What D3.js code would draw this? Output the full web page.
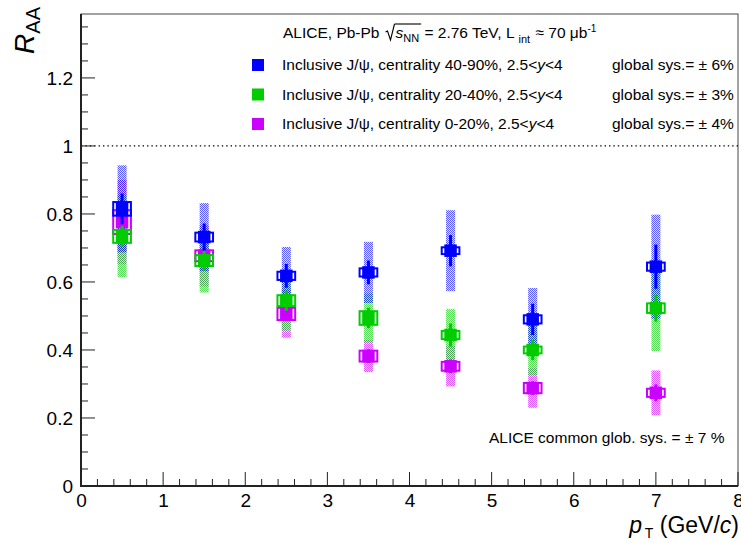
<!DOCTYPE html>
<html>
<head>
<meta charset="utf-8">
<script src="https://cdn.jsdelivr.net/npm/d3@7"></script>
<style>
  html, body { margin: 0; padding: 0; background: #fff; }
  svg { display: block; font-family: "Liberation Sans", Arial, Helvetica, sans-serif; }
  svg text { white-space: pre; }
</style>
</head>
<body>
<svg id="chart" width="741" height="543"></svg>
<script>
// ---------------- data ----------------
const ptBins = [0.5, 1.5, 2.5, 3.5, 4.5, 5.5, 7];

const seriesNames = ["Inclusive J/\u03c8, centrality 40-90%, 2.5<y<4",
                     "Inclusive J/\u03c8, centrality 20-40%, 2.5<y<4",
                     "Inclusive J/\u03c8, centrality 0-20%, 2.5<y<4"];
const globalSys = ["global sys.= \u00b1 6%", "global sys.= \u00b1 3%", "global sys.= \u00b1 4%"];

// 40-90%
const raa4090      = [0.815, 0.732, 0.618, 0.628, 0.692, 0.490, 0.645];
const stat4090     = [0.045, 0.040, 0.035, 0.035, 0.046, 0.046, 0.065];
const sysUnc4090   = [0.020, 0.013, 0.012, 0.012, 0.010, 0.012, 0.012];
const sysCor4090   = [0.128, 0.100, 0.085, 0.090, 0.119, 0.092, 0.153];
// 20-40%
const raa2040      = [0.734, 0.663, 0.545, 0.494, 0.444, 0.400, 0.523];
const stat2040     = [0.030, 0.030, 0.030, 0.030, 0.034, 0.030, 0.040];
const sysUnc2040   = [0.019, 0.016, 0.016, 0.020, 0.012, 0.010, 0.014];
const sysCor2040   = [0.120, 0.094, 0.088, 0.072, 0.077, 0.074, 0.126];
// 0-20%
const raa020       = [0.776, 0.677, 0.506, 0.382, 0.352, 0.288, 0.274];
const stat020      = [0.030, 0.025, 0.020, 0.020, 0.020, 0.020, 0.025];
const sysUnc020    = [0.035, 0.016, 0.018, 0.016, 0.013, 0.015, 0.012];
const sysCor020    = [0.124, 0.090, 0.070, 0.047, 0.059, 0.058, 0.066];

const seriesColors = ["#0000ff", "#00cc00", "#cc00ff"];

const xTicks = [0, 1, 2, 3, 4, 5, 6, 7, 8];
const yTicks = [0, 0.2, 0.4, 0.6, 0.8, 1, 1.2];

// ---------------- setup ----------------
const svg = d3.select("#chart");
const x = d3.scaleLinear().domain([0, 8]).range([81, 738]);
const y = d3.scaleLinear().domain([0, 1.388]).range([486, 14]);

const series = [
  {raa: raa4090, stat: stat4090, unc: sysUnc4090, cor: sysCor4090, color: seriesColors[0], id: "b"},
  {raa: raa2040, stat: stat2040, unc: sysUnc2040, cor: sysCor2040, color: seriesColors[1], id: "g"},
  {raa: raa020,  stat: stat020,  unc: sysUnc020,  cor: sysCor020,  color: seriesColors[2], id: "m"}
];

// checkered patterns
const defs = svg.append("defs");
series.forEach(s => {
  const p = defs.append("pattern").attr("id", "chk-" + s.id)
    .attr("patternUnits", "userSpaceOnUse").attr("width", 2).attr("height", 2);
  p.append("rect").attr("width", 2).attr("height", 2).attr("fill", s.color).attr("fill-opacity", 0.12);
  p.append("rect").attr("x", 0).attr("y", 0).attr("width", 1).attr("height", 1).attr("fill", s.color).attr("fill-opacity", 0.6);
  p.append("rect").attr("x", 1).attr("y", 1).attr("width", 1).attr("height", 1).attr("fill", s.color).attr("fill-opacity", 0.6);
});

// frame
svg.append("rect").attr("x", x(0)).attr("y", y(1.388)).attr("width", x(8) - x(0)).attr("height", y(0) - y(1.388))
  .attr("fill", "none").attr("stroke", "#444").attr("stroke-width", 1);

// dotted line at 1
svg.append("line").attr("x1", x(0)).attr("x2", x(8)).attr("y1", y(1)).attr("y2", y(1))
  .attr("stroke", "#000").attr("stroke-width", 1.2).attr("stroke-dasharray", "1.4 3");

// axes (ticks inward)
const yAxis = d3.axisLeft(y).tickValues(yTicks).tickFormat(d => d3.format("")(+d.toFixed(1))).tickSize(0).tickPadding(8);
const yg = svg.append("g").attr("transform", `translate(${x(0)},0)`).call(yAxis);
yg.select(".domain").remove();
yg.selectAll("text").style("font-size", "19px").attr("fill", "#000");

const xAxis = d3.axisBottom(x).tickValues(xTicks).tickSize(0).tickPadding(6);
const xg = svg.append("g").attr("transform", `translate(0,${y(0)})`).call(xAxis);
xg.select(".domain").remove();
xg.selectAll("text").style("font-size", "19px").attr("fill", "#000").attr("dy", "0.8em");

// tick marks
const yMinor = d3.range(0, 1.3801, 0.05);
svg.append("g").selectAll("line").data(yMinor).join("line")
  .attr("x1", x(0)).attr("x2", (d, i) => x(0) + (i % 4 === 0 ? 14 : 7))
  .attr("y1", d => y(d)).attr("y2", d => y(d)).attr("stroke", "#222").attr("stroke-width", 1);
const xMinor = d3.range(0, 8.001, 0.2);
svg.append("g").selectAll("line").data(xMinor).join("line")
  .attr("x1", d => x(d)).attr("x2", d => x(d))
  .attr("y1", y(0)).attr("y2", (d, i) => y(0) - (i % 5 === 0 ? 14 : 7)).attr("stroke", "#222").attr("stroke-width", 1);

// axis lines
svg.append("line").attr("x1", x(0)).attr("x2", x(0)).attr("y1", y(0)).attr("y2", y(1.388)).attr("stroke", "#222").attr("stroke-width", 2);
svg.append("line").attr("x1", x(0) - 1).attr("x2", x(8)).attr("y1", y(0)).attr("y2", y(0)).attr("stroke", "#222").attr("stroke-width", 2);

// ---------------- data marks ----------------
const bandHalf = 0.055, boxHalf = 0.12, mk = 12.5;
const drawOrder = [2, 1, 0];

drawOrder.forEach(k => {
  const s = series[k];
  svg.append("g").selectAll("rect").data(ptBins).join("rect")
    .attr("x", d => x(d - bandHalf)).attr("width", d => x(d + bandHalf) - x(d - bandHalf))
    .attr("y", (d, i) => y(s.raa[i] + s.cor[i]))
    .attr("height", (d, i) => y(s.raa[i] - s.cor[i]) - y(s.raa[i] + s.cor[i]))
    .attr("fill", `url(#chk-${s.id})`);
});

drawOrder.forEach(k => {
  const s = series[k];
  const g = svg.append("g");
  // open boxes: uncorrelated syst.
  g.selectAll("rect.box").data(ptBins).join("rect").attr("class", "box")
    .attr("x", d => x(d - boxHalf) + 1).attr("width", d => x(d + boxHalf) - x(d - boxHalf) - 2)
    .attr("y", (d, i) => y(s.raa[i] + s.unc[i]))
    .attr("height", (d, i) => Math.max(6, y(s.raa[i] - s.unc[i]) - y(s.raa[i] + s.unc[i])))
    .attr("transform", (d, i) => {
      const h = y(s.raa[i] - s.unc[i]) - y(s.raa[i] + s.unc[i]);
      return h < 6 ? `translate(0,${-(6 - h) / 2})` : null;
    })
    .attr("fill", "none").attr("stroke", s.color).attr("stroke-width", 2);
  // stat error bars
  g.selectAll("line.stat").data(ptBins).join("line").attr("class", "stat")
    .attr("x1", d => x(d)).attr("x2", d => x(d))
    .attr("y1", (d, i) => y(s.raa[i] + s.stat[i])).attr("y2", (d, i) => y(s.raa[i] - s.stat[i]))
    .attr("stroke", s.color).attr("stroke-width", 3);
  // markers
  g.selectAll("rect.mk").data(ptBins).join("rect").attr("class", "mk")
    .attr("x", d => x(d) - mk / 2).attr("y", (d, i) => y(s.raa[i]) - mk / 2)
    .attr("width", mk).attr("height", mk).attr("fill", s.color);
});

// ---------------- texts ----------------
function rich(x0, yb, parts, size) {
  let cx = x0;
  let radStart = null;
  parts.forEach(p => {
    if (p.radical) {
      svg.append("path")
        .attr("d", `M${cx},${yb - 6} L${cx + 2},${yb - 7} L${cx + 5},${yb + 2} L${cx + 9},${yb - 14}`)
        .attr("fill", "none").attr("stroke", "#000").attr("stroke-width", 1.1);
      radStart = cx + 9;
      cx += 10;
      return;
    }
    if (p.radEnd) {
      svg.append("line").attr("x1", radStart).attr("x2", cx + 1).attr("y1", yb - 14).attr("y2", yb - 14)
        .attr("stroke", "#000").attr("stroke-width", 1.1);
      return;
    }
    const t = svg.append("text").attr("x", cx).attr("y", yb + (p.dy || 0))
      .style("font-size", (p.size || size) + "px")
      .style("font-style", p.italic ? "italic" : null)
      .attr("fill", "#000").text(p.t);
    cx += t.node().getComputedTextLength() + (p.after || 0);
  });
  return cx;
}

const fs = 15.5;
rich(283, 38, [
  {t: "ALICE, Pb-Pb", after: 6},
  {radical: true},
  {t: "s", italic: true},
  {t: "NN", size: 11, dy: 4, after: 1},
  {radEnd: true},
  {t: " = 2.76 TeV, L", after: 4},
  {t: "int", size: 11, dy: 5, after: 1},
  {t: " \u2248 70 \u03bcb"},
  {t: "-1", size: 10, dy: -6}
], fs);

seriesNames.forEach((nm, i) => {
  const yb = 70 + i * 29.5;
  svg.append("rect").attr("x", 252).attr("y", yb - 11).attr("width", 12).attr("height", 12).attr("fill", seriesColors[i]);
  const parts = nm.split("<y<");
  rich(282, yb, [
    {t: parts[0] + "<"},
    {t: "y", italic: true},
    {t: "<" + parts[1]}
  ], fs);
  svg.append("text").attr("x", 612).attr("y", yb).style("font-size", fs + "px").attr("fill", "#000").text(globalSys[i]);
});

svg.append("text").attr("x", 489).attr("y", 443).style("font-size", fs + "px").attr("fill", "#000")
  .text("ALICE common glob. sys. = \u00b1 7 %");

// axis titles
const yt = svg.append("text").attr("transform", "translate(34,7) rotate(-90)").attr("text-anchor", "end").attr("fill", "#000");
yt.append("tspan").style("font-size", "28px").style("font-style", "italic").text("R");
yt.append("tspan").style("font-size", "20px").attr("dy", 6).text("AA");

const xt = svg.append("text").attr("x", 739).attr("y", 533).attr("text-anchor", "end").attr("fill", "#000").style("font-size", "23px");
xt.append("tspan").style("font-style", "italic").text("p");
xt.append("tspan").style("font-size", "14px").attr("dy", 5).text("\u2009T");
xt.append("tspan").attr("dy", -5).text(" (GeV/");
xt.append("tspan").style("font-style", "italic").text("c");
xt.append("tspan").text(")");
</script>
</body>
</html>
